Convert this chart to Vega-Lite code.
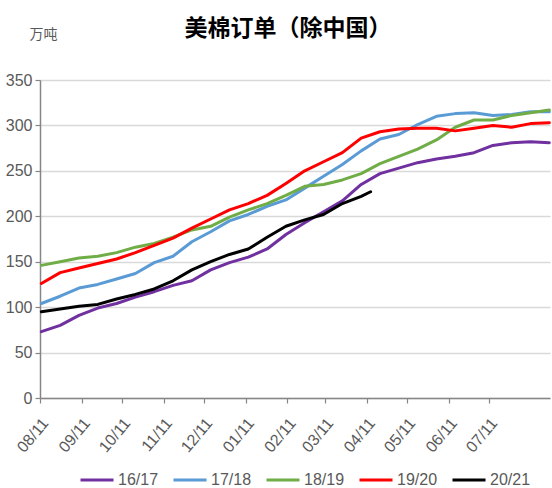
{
  "$schema": "https://vega.github.io/schema/vega-lite/v6.json",
  "width": 510,
  "height": 318,
  "autosize": "none",
  "padding": {"left": 40, "top": 80, "right": 2, "bottom": 90},
  "config": {"view": {"stroke": null}, "background": "#ffffff"},
  "title": {"text": "美棉订单（除中国）", "fontSize": 23, "font": "Noto Sans CJK SC", "fontWeight": "bold", "color": "#000000", "anchor": "middle", "offset": 0, "dy": 14, "dx": -7},
  "data": {"values": [
    {"date":"2018-08-12","series":"16/17","value":73},{"date":"2018-08-26","series":"16/17","value":80},{"date":"2018-09-09","series":"16/17","value":91},{"date":"2018-09-23","series":"16/17","value":99},{"date":"2018-10-07","series":"16/17","value":104},{"date":"2018-10-21","series":"16/17","value":111},{"date":"2018-11-04","series":"16/17","value":117},{"date":"2018-11-18","series":"16/17","value":124},{"date":"2018-12-02","series":"16/17","value":129},{"date":"2018-12-16","series":"16/17","value":141},{"date":"2018-12-30","series":"16/17","value":149},{"date":"2019-01-13","series":"16/17","value":155},{"date":"2019-01-27","series":"16/17","value":164},{"date":"2019-02-10","series":"16/17","value":180},{"date":"2019-02-24","series":"16/17","value":193},{"date":"2019-03-10","series":"16/17","value":205},{"date":"2019-03-24","series":"16/17","value":217},{"date":"2019-04-07","series":"16/17","value":235},{"date":"2019-04-21","series":"16/17","value":247},{"date":"2019-05-05","series":"16/17","value":253},{"date":"2019-05-19","series":"16/17","value":259},{"date":"2019-06-02","series":"16/17","value":263},{"date":"2019-06-16","series":"16/17","value":266},{"date":"2019-06-30","series":"16/17","value":270},{"date":"2019-07-14","series":"16/17","value":278},{"date":"2019-07-28","series":"16/17","value":281},{"date":"2019-08-11","series":"16/17","value":282},{"date":"2019-08-25","series":"16/17","value":281},
    {"date":"2018-08-12","series":"17/18","value":104},{"date":"2018-08-26","series":"17/18","value":112},{"date":"2018-09-09","series":"17/18","value":121},{"date":"2018-09-23","series":"17/18","value":125},{"date":"2018-10-07","series":"17/18","value":131},{"date":"2018-10-21","series":"17/18","value":137},{"date":"2018-11-04","series":"17/18","value":149},{"date":"2018-11-18","series":"17/18","value":156},{"date":"2018-12-02","series":"17/18","value":172},{"date":"2018-12-16","series":"17/18","value":183},{"date":"2018-12-30","series":"17/18","value":195},{"date":"2019-01-13","series":"17/18","value":202},{"date":"2019-01-27","series":"17/18","value":211},{"date":"2019-02-10","series":"17/18","value":218},{"date":"2019-02-24","series":"17/18","value":231},{"date":"2019-03-10","series":"17/18","value":244},{"date":"2019-03-24","series":"17/18","value":257},{"date":"2019-04-07","series":"17/18","value":272},{"date":"2019-04-21","series":"17/18","value":285},{"date":"2019-05-05","series":"17/18","value":290},{"date":"2019-05-19","series":"17/18","value":301},{"date":"2019-06-02","series":"17/18","value":310},{"date":"2019-06-16","series":"17/18","value":313},{"date":"2019-06-30","series":"17/18","value":314},{"date":"2019-07-14","series":"17/18","value":311},{"date":"2019-07-28","series":"17/18","value":312},{"date":"2019-08-11","series":"17/18","value":315},{"date":"2019-08-25","series":"17/18","value":315},
    {"date":"2018-08-12","series":"18/19","value":146},{"date":"2018-08-26","series":"18/19","value":150},{"date":"2018-09-09","series":"18/19","value":154},{"date":"2018-09-23","series":"18/19","value":156},{"date":"2018-10-07","series":"18/19","value":160},{"date":"2018-10-21","series":"18/19","value":166},{"date":"2018-11-04","series":"18/19","value":170},{"date":"2018-11-18","series":"18/19","value":177},{"date":"2018-12-02","series":"18/19","value":185},{"date":"2018-12-16","series":"18/19","value":189},{"date":"2018-12-30","series":"18/19","value":199},{"date":"2019-01-13","series":"18/19","value":207},{"date":"2019-01-27","series":"18/19","value":214},{"date":"2019-02-10","series":"18/19","value":223},{"date":"2019-02-24","series":"18/19","value":233},{"date":"2019-03-10","series":"18/19","value":235},{"date":"2019-03-24","series":"18/19","value":240},{"date":"2019-04-07","series":"18/19","value":247},{"date":"2019-04-21","series":"18/19","value":258},{"date":"2019-05-05","series":"18/19","value":266},{"date":"2019-05-19","series":"18/19","value":274},{"date":"2019-06-02","series":"18/19","value":284},{"date":"2019-06-16","series":"18/19","value":298},{"date":"2019-06-30","series":"18/19","value":306},{"date":"2019-07-14","series":"18/19","value":306},{"date":"2019-07-28","series":"18/19","value":311},{"date":"2019-08-11","series":"18/19","value":314},{"date":"2019-08-25","series":"18/19","value":317},
    {"date":"2018-08-12","series":"19/20","value":126},{"date":"2018-08-26","series":"19/20","value":138},{"date":"2018-09-09","series":"19/20","value":143},{"date":"2018-09-23","series":"19/20","value":148},{"date":"2018-10-07","series":"19/20","value":153},{"date":"2018-10-21","series":"19/20","value":160},{"date":"2018-11-04","series":"19/20","value":168},{"date":"2018-11-18","series":"19/20","value":176},{"date":"2018-12-02","series":"19/20","value":187},{"date":"2018-12-16","series":"19/20","value":197},{"date":"2018-12-30","series":"19/20","value":207},{"date":"2019-01-13","series":"19/20","value":214},{"date":"2019-01-27","series":"19/20","value":223},{"date":"2019-02-10","series":"19/20","value":236},{"date":"2019-02-24","series":"19/20","value":250},{"date":"2019-03-10","series":"19/20","value":260},{"date":"2019-03-24","series":"19/20","value":270},{"date":"2019-04-07","series":"19/20","value":286},{"date":"2019-04-21","series":"19/20","value":293},{"date":"2019-05-05","series":"19/20","value":296},{"date":"2019-05-19","series":"19/20","value":297},{"date":"2019-06-02","series":"19/20","value":297},{"date":"2019-06-16","series":"19/20","value":294},{"date":"2019-06-30","series":"19/20","value":297},{"date":"2019-07-14","series":"19/20","value":300},{"date":"2019-07-28","series":"19/20","value":298},{"date":"2019-08-11","series":"19/20","value":302},{"date":"2019-08-25","series":"19/20","value":303},
    {"date":"2018-08-12","series":"20/21","value":95},{"date":"2018-08-26","series":"20/21","value":98},{"date":"2018-09-09","series":"20/21","value":101},{"date":"2018-09-23","series":"20/21","value":103},{"date":"2018-10-07","series":"20/21","value":109},{"date":"2018-10-21","series":"20/21","value":114},{"date":"2018-11-04","series":"20/21","value":120},{"date":"2018-11-18","series":"20/21","value":129},{"date":"2018-12-02","series":"20/21","value":141},{"date":"2018-12-16","series":"20/21","value":150},{"date":"2018-12-30","series":"20/21","value":158},{"date":"2019-01-13","series":"20/21","value":164},{"date":"2019-01-27","series":"20/21","value":177},{"date":"2019-02-10","series":"20/21","value":189},{"date":"2019-02-24","series":"20/21","value":196},{"date":"2019-03-10","series":"20/21","value":202},{"date":"2019-03-24","series":"20/21","value":214},{"date":"2019-04-07","series":"20/21","value":222},{"date":"2019-04-14","series":"20/21","value":227}
  ]},
  "mark": {"type": "line", "strokeJoin": "round", "strokeCap": "round"},
  "encoding": {
    "x": {
      "field": "date", "type": "temporal",
      "scale": {"type": "utc", "domain": [{"year": 2018, "month": 8, "date": 11, "utc": true}, {"year": 2019, "month": 8, "date": 25, "hours": 12, "utc": true}]},
      "axis": {
        "title": null,
        "labelExpr": "utcFormat(datum.value, '%m/%d')",
        "values": [
          {"year": 2018, "month": 8, "date": 11, "utc": true}, {"year": 2018, "month": 9, "date": 11, "utc": true}, {"year": 2018, "month": 10, "date": 11, "utc": true}, {"year": 2018, "month": 11, "date": 11, "utc": true}, {"year": 2018, "month": 12, "date": 11, "utc": true}, {"year": 2019, "month": 1, "date": 11, "utc": true}, {"year": 2019, "month": 2, "date": 11, "utc": true}, {"year": 2019, "month": 3, "date": 11, "utc": true}, {"year": 2019, "month": 4, "date": 11, "utc": true}, {"year": 2019, "month": 5, "date": 11, "utc": true}, {"year": 2019, "month": 6, "date": 11, "utc": true}, {"year": 2019, "month": 7, "date": 11, "utc": true}
        ],
        "labelAngle": -50, "labelFont": "Liberation Sans", "labelFontSize": 16, "labelColor": "#595959",
        "labelPadding": 17, "labelOffset": 5, "labelOverlap": false, "labelFlush": false,
        "grid": false, "domainColor": "#868686", "domainWidth": 1.5, "tickColor": "#868686", "tickWidth": 1.2, "tickSize": 5
      }
    },
    "y": {
      "field": "value", "type": "quantitative",
      "scale": {"domain": [0, 350], "nice": false},
      "axis": {
        "values": [0, 50, 100, 150, 200, 250, 300, 350],
        "title": "万吨", "titleAngle": 0, "titleX": 3, "titleY": -46, "titleAlign": "center", "titleBaseline": "middle",
        "titleFont": "Noto Sans CJK SC", "titleFontSize": 14, "titleFontWeight": "normal", "titleColor": "#595959",
        "labelFont": "Liberation Sans", "labelFontSize": 16, "labelColor": "#595959", "labelPadding": 3,
        "gridColor": "#d9d9d9", "gridWidth": 1.5, "domainColor": "#868686", "domainWidth": 1.5,
        "tickColor": "#868686", "tickSize": 5, "tickWidth": 1.2
      }
    },
    "color": {
      "field": "series", "type": "nominal", "title": null,
      "scale": {"domain": ["16/17", "17/18", "18/19", "19/20", "20/21"], "range": ["#7030A0", "#5B9BD5", "#70AD47", "#FF0000", "#000000"]},
      "legend": {
        "orient": "none", "legendX": 39, "legendY": 382, "direction": "horizontal",
        "symbolType": "stroke", "symbolSize": 1089, "labelFont": "Liberation Sans", "labelFontSize": 16, "labelColor": "#595959",
        "columnPadding": 8, "labelOffset": 3, "labelLimit": 200
      }
    },
    "strokeWidth": {
      "field": "series", "type": "nominal", "title": null,
      "scale": {"domain": ["16/17", "17/18", "18/19", "19/20", "20/21"], "range": [3, 3, 3, 5.5, 5.5]}
    }
  }
}
